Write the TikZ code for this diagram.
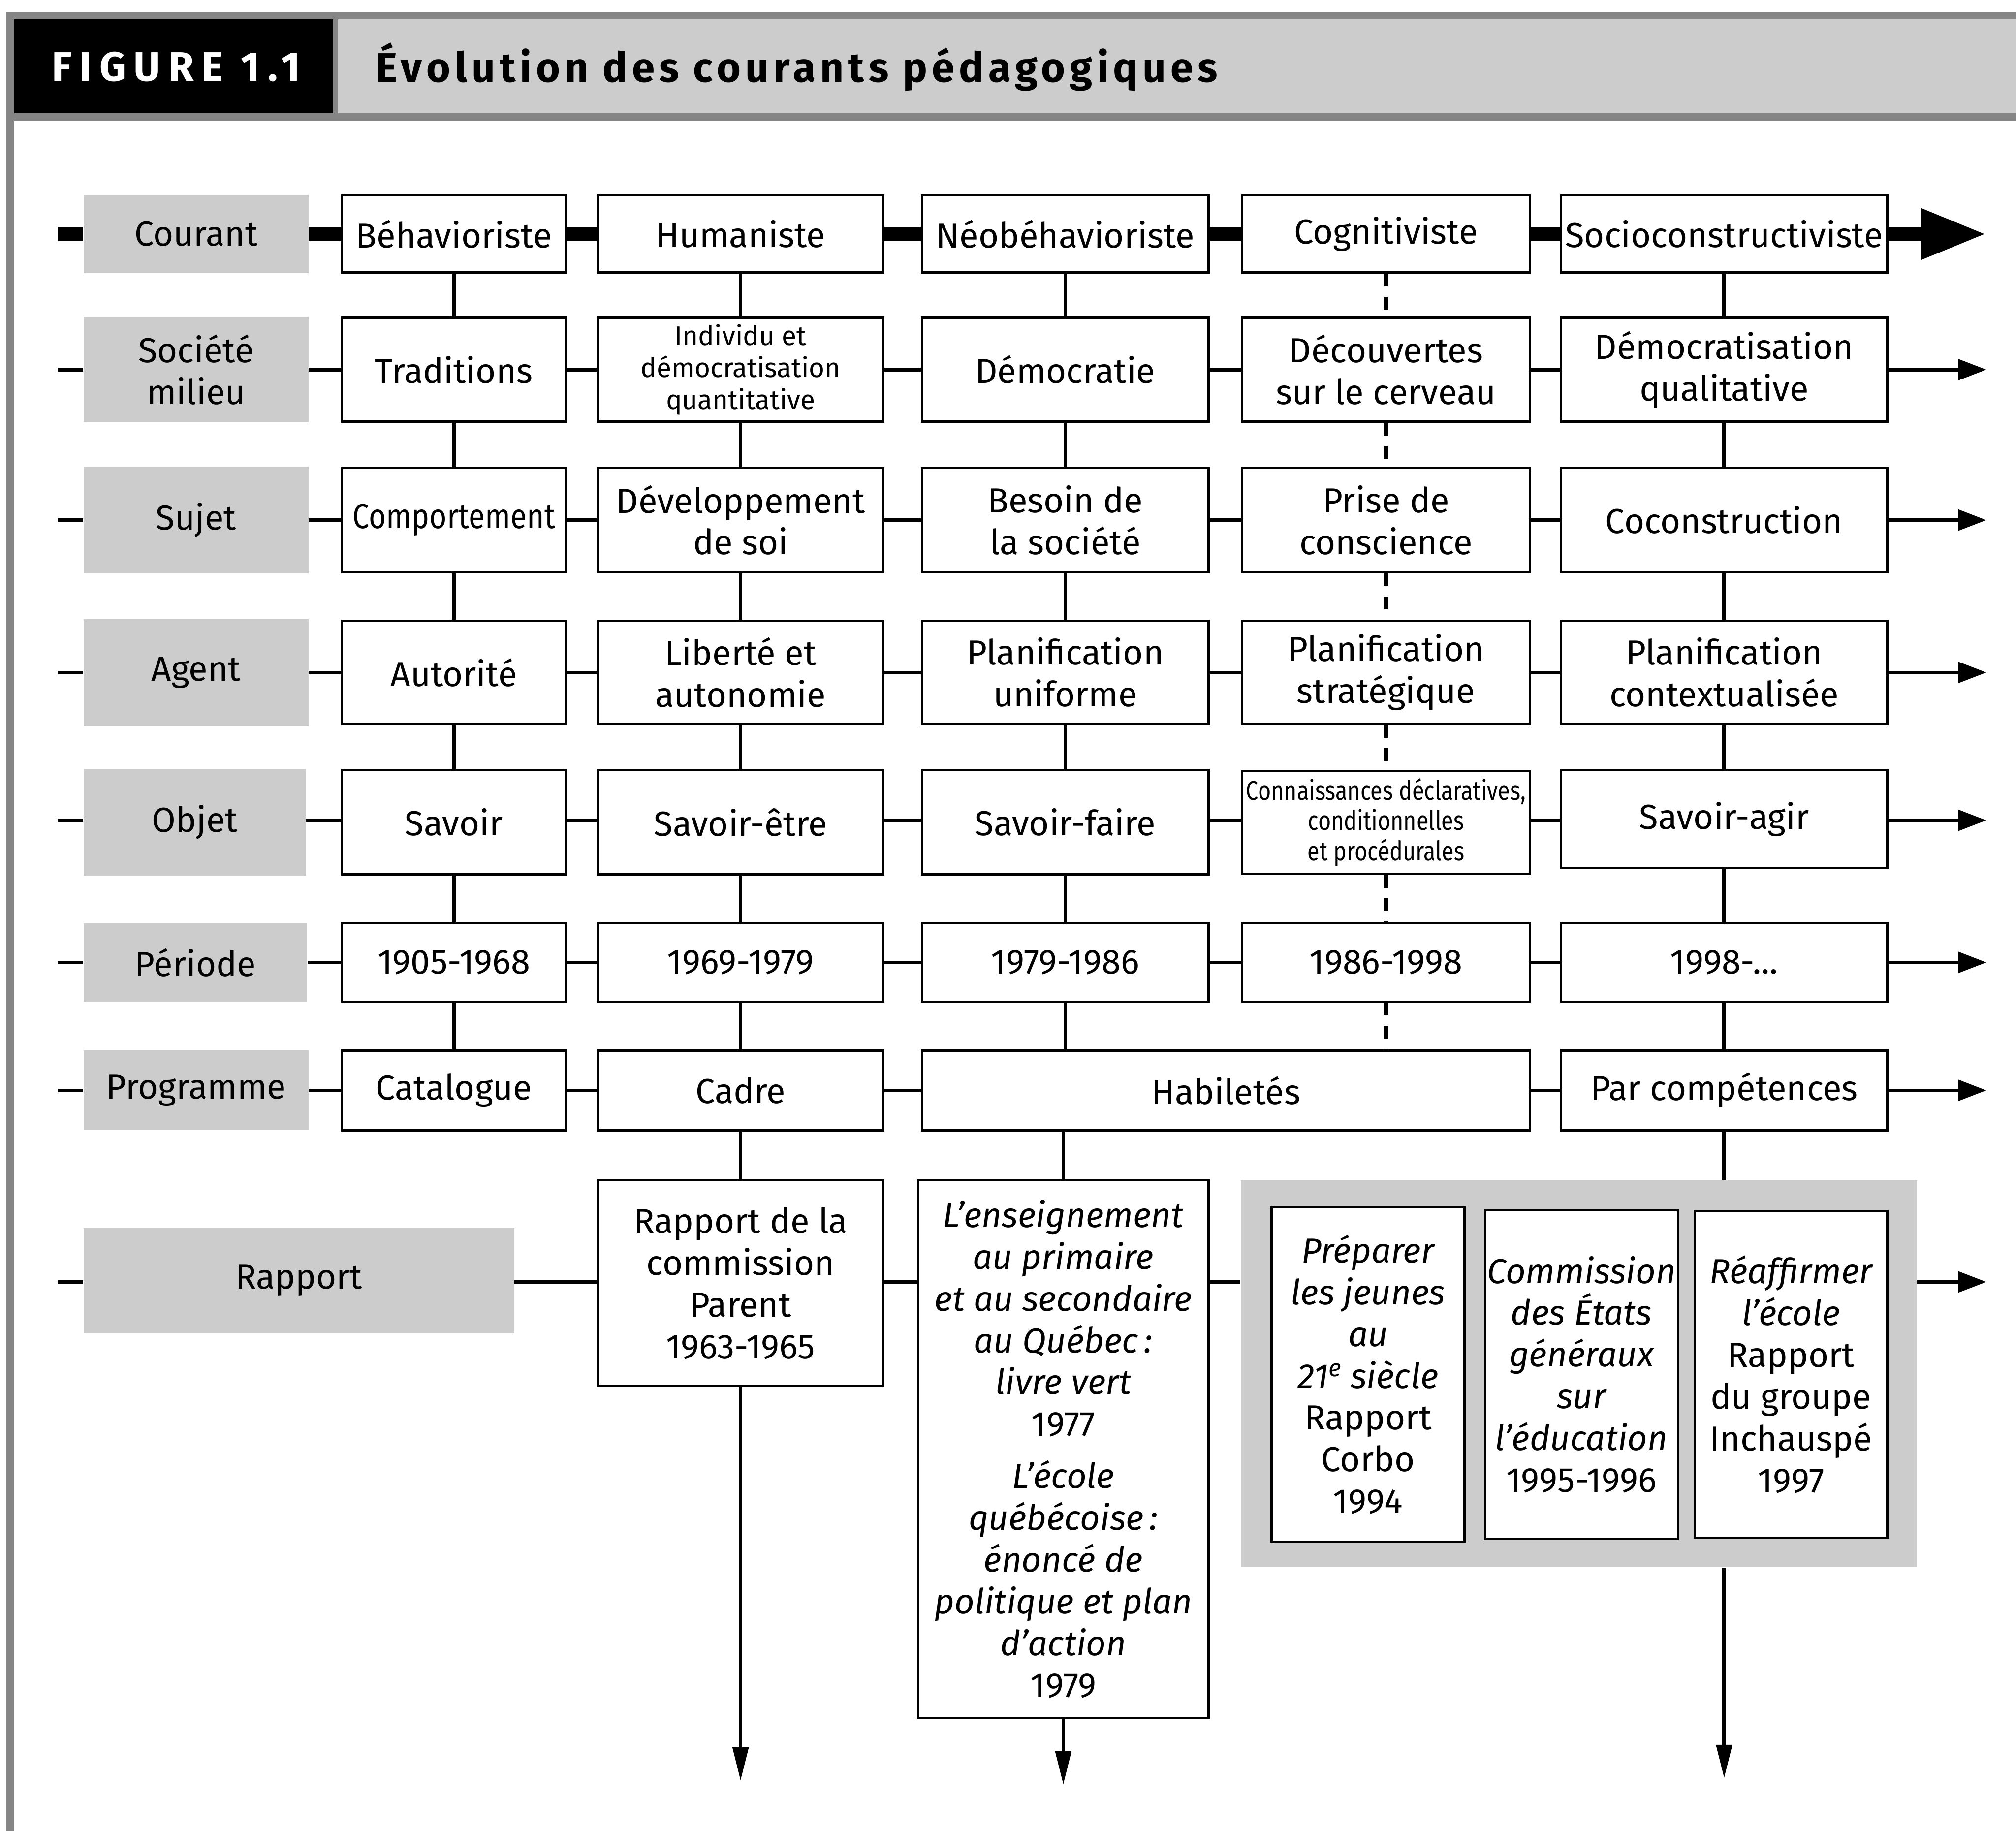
\documentclass[tikz,border=0pt]{standalone}
\usepackage{fontspec}
\usepackage{graphicx}
\setmainfont{Fira Sans}
\usetikzlibrary{arrows.meta}
\definecolor{lgray}{gray}{0.8}
\definecolor{dgray}{gray}{0.52}
\begin{document}
\begin{tikzpicture}[x=1pt,y=-1pt,
  cell/.style={draw, line width=1.8pt, fill=white, inner sep=0pt, align=center, font=\fontsize{27}{32.5}\selectfont},
  lab/.style={fill=lgray, inner sep=0pt, align=center, minimum width=175pt, font=\fontsize{27}{32.5}\selectfont},
  c1/.style={minimum width=174pt}, c2/.style={minimum width=222pt}, c3/.style={minimum width=223pt},
  c4/.style={minimum width=224pt}, c5/.style={minimum width=254pt},
  conn/.style={line width=2.8pt},
  thickbar/.style={line width=11pt},
  dash4/.style={line width=2.8pt, dash pattern=on 10pt off 8pt},
  rowarrow/.style={-{Triangle[length=22pt,width=16pt]}},
  downarrow/.style={-{Triangle[length=26pt,width=12pt]}},
]
\useasboundingbox (0,0) rectangle (1568,1424);
% header
\fill[dgray] (5,9) rectangle (1568,94);
\fill[black] (11,15) rectangle (259,88);
\fill[lgray] (263,15) rectangle (1568,88);
\fill[dgray] (5,94) rectangle (11,1424);
\node[text=white, font=\fontsize{32}{38}\selectfont\bfseries\addfontfeature{LetterSpace=19}] (fig) at (137,52) {FIGURE 1.1};
\node[anchor=west, inner sep=0pt, font=\fontsize{32}{38}\selectfont\bfseries\addfontfeature{LetterSpace=11}] (title) at (292,52) {Évolution des courants pédagogiques};

% row coordinates
\foreach \r/\y in {1/182,2/287.5,3/404.5,4/523,5/638,6/748.5,7/848,8/997}{
  \coordinate (s\r) at (45,\y);
  \coordinate (t\r) at (1545,\y);
}

% Row 1
\node[lab, minimum height=61pt] (L1) at (152.5,182) {Courant};
\node[cell,c1,minimum height=60pt] (A1) at (353,182) {Béhavioriste};
\node[cell,c2,minimum height=60pt] (B1) at (576,182) {Humaniste};
\node[cell,c3,minimum height=60pt] (C1) at (828.5,182) {Néobéhavioriste};
\node[cell,c4,minimum height=60pt] (D1) at (1078,182) {Cognitiviste};
\node[cell,c5,minimum height=60pt] (E1) at (1341,182) {Socioconstructiviste};
% Row 2
\node[lab, minimum height=82pt] (L2) at (152.5,287.5) {Société\\milieu};
\node[cell,c1,minimum height=81pt] (A2) at (353,287.5) {Traditions};
\node[cell,c2,minimum height=81pt,font=\fontsize{21}{25}\selectfont] (B2) at (576,287.5) {Individu et\\démocratisation\\quantitative};
\node[cell,c3,minimum height=81pt] (C2) at (828.5,287.5) {Démocratie};
\node[cell,c4,minimum height=81pt] (D2) at (1078,287.5) {Découvertes\\sur le cerveau};
\node[cell,c5,minimum height=81pt] (E2) at (1341,287.5) {Démocratisation\\qualitative};
% Row 3
\node[lab, minimum height=83pt] (L3) at (152.5,404.5) {Sujet};
\node[cell,c1,minimum height=81pt] (A3) at (353,404.5) {\scalebox{0.86}[1]{Comportement}};
\node[cell,c2,minimum height=81pt] (B3) at (576,404.5) {Développement\\de soi};
\node[cell,c3,minimum height=81pt] (C3) at (828.5,404.5) {Besoin de\\la société};
\node[cell,c4,minimum height=81pt] (D3) at (1078,404.5) {Prise de\\conscience};
\node[cell,c5,minimum height=81pt] (E3) at (1341,404.5) {Coconstruction};
% Row 4
\node[lab, minimum height=83pt] (L4) at (152.5,523) {Agent};
\node[cell,c1,minimum height=80pt] (A4) at (353,523) {Autorité};
\node[cell,c2,minimum height=80pt] (B4) at (576,523) {Liberté et\\autonomie};
\node[cell,c3,minimum height=80pt] (C4) at (828.5,523) {Planification\\uniforme};
\node[cell,c4,minimum height=80pt] (D4) at (1078,523) {Planification\\stratégique};
\node[cell,c5,minimum height=80pt] (E4) at (1341,523) {Planification\\contextualisée};
% Row 5
\node[lab, minimum height=83pt, minimum width=173pt] (L5) at (151.5,639.5) {Objet};
\node[cell,c1,minimum height=81pt] (A5) at (353,639.5) {Savoir};
\node[cell,c2,minimum height=81pt] (B5) at (576,639.5) {Savoir-être};
\node[cell,c3,minimum height=81pt] (C5) at (828.5,639.5) {Savoir-faire};
\node[cell,c4,minimum height=80pt,font=\fontsize{21}{23.5}\selectfont] (D5) at (1078,639.5) {\scalebox{0.82}[1]{Connaissances déclaratives,}\\\scalebox{0.82}[1]{conditionnelles}\\\scalebox{0.82}[1]{et procédurales}};
\node[cell,c5,minimum height=76pt] (E5) at (1341,637) {Savoir-agir};
% Row 6
\node[lab, minimum height=61pt, minimum width=174pt] (L6) at (152,748.5) {Période};
\node[cell,c1,minimum height=61pt] (A6) at (353,748.5) {1905-1968};
\node[cell,c2,minimum height=61pt] (B6) at (576,748.5) {1969-1979};
\node[cell,c3,minimum height=61pt] (C6) at (828.5,748.5) {1979-1986};
\node[cell,c4,minimum height=61pt] (D6) at (1078,748.5) {1986-1998};
\node[cell,c5,minimum height=61pt] (E6) at (1341,748.5) {1998-...};
% Row 7
\node[lab, minimum height=62pt] (L7) at (152.5,848) {Programme};
\node[cell,c1,minimum height=62pt] (A7) at (353,848) {Catalogue};
\node[cell,c2,minimum height=62pt] (B7) at (576,848) {Cadre};
\node[cell,minimum width=473pt,minimum height=62pt] (H7) at (953.5,848) {Habiletés};
\node[cell,c5,minimum height=62pt] (E7) at (1341,848) {Par compétences};
% Row 8 (Rapport)
\node[lab, minimum width=335pt, minimum height=82pt] (L8) at (232.5,996) {Rapport};
\node[cell,c2,minimum height=160pt] (R1) at (576,998) {Rapport de la\\commission\\Parent\\1963-1965};
\node[cell,minimum width=226pt,minimum height=418pt] (R2) at (827,1127) {\itshape L’enseignement\\\itshape au primaire\\\itshape et au secondaire\\\itshape au Québec\,:\\\itshape livre vert\\1977\\[8pt]\itshape L’école\\\itshape québécoise\,:\\\itshape énoncé de\\\itshape politique et plan\\\itshape d’action\\1979};
\node[fill=lgray, inner sep=0pt, minimum width=526pt, minimum height=301pt] (G) at (1228,1068.5) {};
\node[cell,minimum width=150pt,minimum height=260pt] (R3) at (1064,1069) {\itshape Préparer\\\itshape les jeunes\\\itshape au\\\itshape 21\textsuperscript{e} siècle\\Rapport\\Corbo\\1994};
\node[cell,minimum width=150pt,minimum height=256pt] (R4) at (1230,1069) {\itshape Commission\\\itshape des États\\\itshape généraux\\\itshape sur\\\itshape l’éducation\\1995-1996};
\node[cell,minimum width=150pt,minimum height=254pt] (R5) at (1393,1069) {\itshape Réaffirmer\\\itshape l’école\\Rapport\\du groupe\\Inchauspé\\1997};

% horizontal connectors (kept level with the row coordinate)
\draw[thickbar] (s1) -- (L1.west |- s1) (L1.east |- s1) -- (A1.west |- s1) (A1.east |- s1) -- (B1.west |- s1) (B1.east |- s1) -- (C1.west |- s1) (C1.east |- s1) -- (D1.west |- s1) (D1.east |- s1) -- (E1.west |- s1);
\draw[thickbar, -{Triangle[length=51pt,width=37pt]}] (E1.east |- s1) -- (t1);
\foreach \r in {2,...,6}{
  \draw[conn] (s\r) -- (L\r.west |- s\r) (L\r.east |- s\r) -- (A\r.west |- s\r) (A\r.east |- s\r) -- (B\r.west |- s\r) (B\r.east |- s\r) -- (C\r.west |- s\r) (C\r.east |- s\r) -- (D\r.west |- s\r) (D\r.east |- s\r) -- (E\r.west |- s\r);
  \draw[conn, rowarrow] (E\r.east |- s\r) -- (t\r);
}
\draw[conn] (s7) -- (L7.west |- s7) (L7.east |- s7) -- (A7.west |- s7) (A7.east |- s7) -- (B7.west |- s7) (B7.east |- s7) -- (H7.west |- s7) (H7.east |- s7) -- (E7.west |- s7);
\draw[conn, rowarrow] (E7.east |- s7) -- (t7);
\draw[conn] (s8) -- (L8.west |- s8) (L8.east |- s8) -- (R1.west |- s8) (R1.east |- s8) -- (R2.west |- s8) (R2.east |- s8) -- (G.west |- s8);
\draw[conn, rowarrow] (G.east |- s8) -- (t8);

% vertical connectors
\foreach \c in {A,B,C,E}{
  \foreach \r/\s in {1/2,2/3,3/4,4/5,5/6}{
    \draw[conn] (\c\r.south) -- (\c\s.north);
  }
}
\foreach \r/\s in {1/2,2/3,3/4,4/5,5/6}{
  \draw[dash4] (D\r.south) -- (D\s.north);
}
\draw[conn] (A6.south) -- (A7.north);
\draw[conn] (B6.south) -- (B7.north);
\draw[conn] (E6.south) -- (E7.north);
\draw[conn] (C6.south) -- (C6.south |- H7.north);
\draw[dash4] (D6.south) -- (D6.south |- H7.north);
\draw[conn] (B7.south) -- (R1.north);
\draw[conn] (R2.north |- H7.south) -- (R2.north);
\draw[conn] (E7.south) -- (E7.south |- G.north);
\coordinate (e2) at (576,1385);
\coordinate (e3) at (827,1388);
\coordinate (e5) at (1341,1383);
\draw[conn, downarrow] (R1.south) -- (e2);
\draw[conn, downarrow] (R2.south) -- (e3);
\draw[conn, downarrow] (E7.south |- G.south) -- (e5);
\end{tikzpicture}
\end{document}
